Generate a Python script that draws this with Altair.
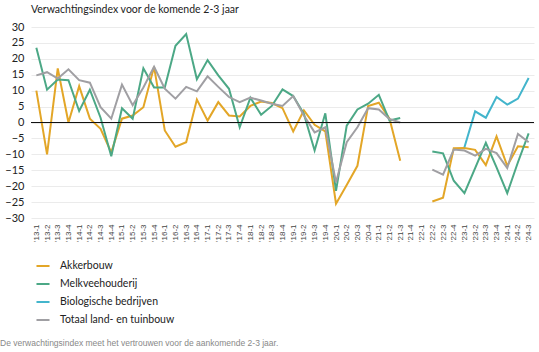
import altair as alt
import pandas as pd

quarters = ["'13-1","'13-2","'13-3","'13-4","'14-1","'14-2","'14-3","'14-4",
            "'15-1","'15-2","'15-3","'15-4","'16-1","'16-2","'16-3","'16-4",
            "'17-1","'17-2","'17-3","'17-4","'18-1","'18-2","'18-3","'18-4",
            "'19-1","'19-2","'19-3","'19-4","'20-1","'20-2","'20-3","'20-4",
            "'21-1","'21-2","'21-3","'21-4","'22-1","'22-2","'22-3","'22-4",
            "'23-1","'23-2","'23-3","'23-4","'24-1","'24-2","'24-3"]

akkerbouw = [10, -10, 17, 0, 11.4, 1.2, -2, -9.4, 1.2, 2.2, 4.8, 17.5, -2.5, -7.6, -6.2, 7.2,
             0.6, 6.4, 2.2, 1.9, 5.2, 6.6, 6.1, 4.5, -2.8, 3.8, -0.7, -2.8, -25.5, -19.6, -13.6, 5.2,
             6.2, 1.2, -12, None, None, -24.8, -23.6, -8.1, -8, -8.6, -13.4, -4.4, -13.6, -7.5, -7.8]
melkvee = [23.5, 10.3, 13.5, 13.3, 3.6, 10.3, 1.5, -10.6, 4.5, 1.2, 17, 11, 11, 24.1, 27.8, 13.6,
           19.6, 14.8, 10.6, -1.5, 7.8, 2.4, 5.2, 10.4, 8.3, 2.7, -8.8, 2.9, -21.5, -1, 4.1, 5.9,
           8.7, 0.6, 1.4, None, None, -9.1, -9.7, -18.3, -22.2, -14.3, -6.4, -14.1, -22.2, -12.5, -3.4]
biologisch = [None] * 40 + [-7.8, 3.5, 1.5, 8, 5.6, 7.5, 14]
totaal = [14.8, 15.8, 13.8, 16.7, 13.3, 12.5, 4.8, 1.2, 11.9, 5.4, 11, 17.5, 10.6, 7.5, 11.2, 9.8,
          14.5, 11.2, 8, 6.4, 7.8, 6.9, 5.9, 5.2, 8.3, 2.2, -3.1, -1.5, -18.8, -6.2, -1.5, 4.5,
          4.1, 1.1, 0, None, None, -14.8, -16.4, -8.5, -8.8, -10.4, -8.3, -9.6, -14.3, -3.6, -6.2]

y_ticks = [-30, -25, -20, -15, -10, -5, 0, 5, 10, 15, 20, 25, 30]

series_names = ["Akkerbouw", "Melkveehouderij", "Biologische bedrijven", "Totaal land- en tuinbouw"]
series_values = [akkerbouw, melkvee, biologisch, totaal]
series_colors = ["#E3A627", "#4CA886", "#43B5CC", "#A09FA3"]

rows = []
for name, vals in zip(series_names, series_values):
    seg = 0
    prev_none = False
    for q, v in zip(quarters, vals):
        if v is None:
            prev_none = True
            continue
        if prev_none:
            seg += 1
            prev_none = False
        rows.append({"kwartaal": q, "reeks": name, "waarde": v, "seg": seg,
                     "volgorde": series_names.index(name)})
df = pd.DataFrame(rows)

x = alt.X("kwartaal:O", scale=alt.Scale(domain=quarters, type="point", padding=0.5),
          axis=alt.Axis(title=None, labelAngle=-90, labelFontSize=8, labelColor="#444",
                        labelFont="Liberation Sans", ticks=False, domain=False, grid=False,
                        labelPadding=6, labelOverlap=False))
y = alt.Y("waarde:Q", scale=alt.Scale(domain=[-30, 30], nice=False),
          axis=alt.Axis(title=None, values=y_ticks, labelFontSize=11, labelOverlap=False,
                        labelColor="#222", labelFont="Lato", ticks=False, domain=False,
                        gridColor="#ebebeb", gridWidth=1, labelPadding=7))

lines = alt.Chart(df).mark_line(strokeWidth=2).encode(
    x=x, y=y,
    color=alt.Color("reeks:N", scale=alt.Scale(domain=series_names, range=series_colors),
                    legend=alt.Legend(title=None, orient="none", legendX=4, legendY=231,
                                      direction="vertical", symbolType="stroke",
                                      symbolSize=170, symbolStrokeWidth=2,
                                      labelFontSize=10.5, labelFont="Lato", labelColor="#222",
                                      labelOffset=9, rowPadding=4)),
    detail="seg:N",
    order=alt.Order("volgorde:Q"),
)

zero = alt.Chart(pd.DataFrame({"waarde": [0]})).mark_rule(color="#111", strokeWidth=1).encode(
    y=y
)

footnote = alt.Chart(pd.DataFrame({"t": ["De verwachtingsindex meet het vertrouwen voor de aankomende 2-3 jaar."]})).mark_text(
    align="left", baseline="middle", fontSize=8.5, font="Liberation Sans", color="#888"
).encode(text="t:N", x=alt.value(-31), y=alt.value(316))

chart = alt.layer(lines, zero, footnote).properties(
    width=503, height=191,
    title=alt.TitleParams("Verwachtingsindex voor de komende 2-3 jaar", anchor="start",
                          frame="group", fontSize=10.5, font="Lato", fontWeight="normal",
                          color="#222", offset=6),
    autosize=alt.AutoSizeParams(type="none"),
    padding={"left": 31, "top": 27, "right": 5, "bottom": 134},
).configure_view(stroke=None)

chart.save("out.html", embed_options={"renderer": "svg", "actions": False})
